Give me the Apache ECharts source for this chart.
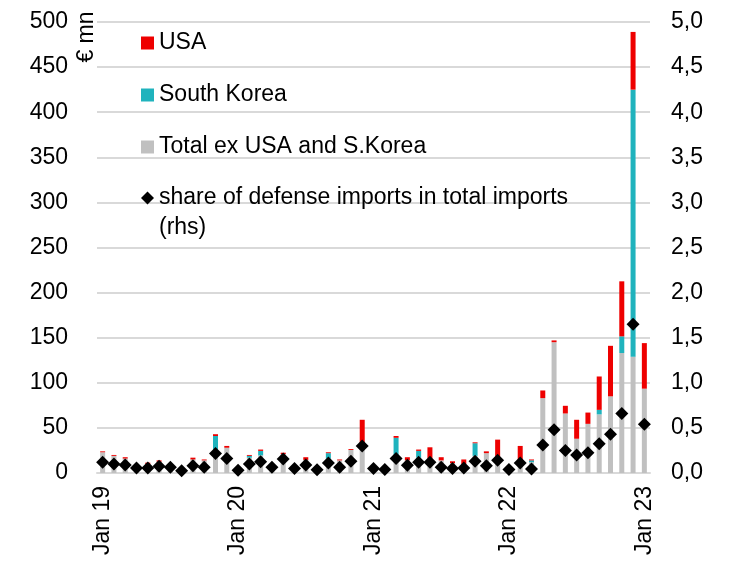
<!DOCTYPE html>
<html>
<head>
<meta charset="utf-8">
<script src="https://cdn.jsdelivr.net/npm/echarts@6/dist/echarts.min.js"></script>
<style>
  html, body { margin: 0; padding: 0; background: #fff; }
  #chart { width: 731px; height: 561px; }
</style>
</head>
<body>
<div id="chart"></div>
<script>
// Monthly defense imports, Jan 2019 - Jan 2023 (€ mn) and share in total imports (%)
const monthNames = ['Jan','Feb','Mar','Apr','May','Jun','Jul','Aug','Sep','Oct','Nov','Dec'];
const years = ['19','20','21','22','23'];
const months = [];
years.forEach(y => monthNames.forEach(m => months.push(m + ' ' + y)));
const categories = months.slice(0, 49);

const totalExUsaKorea = [
  23, 19, 16, 8, 10, 12.5, 8, 4, 15, 14, 26, 28,
  4, 17, 19.5, 8, 21, 6, 14.5, 3, 16, 14, 25.5, 27,
  5, 3, 19, 14, 17, 16, 14, 11, 10, 19, 22, 18,
  5, 10, 12, 83, 145, 66, 38, 54.5, 65, 85, 133, 129,
  93.5
];
const southKorea = [
  0, 0, 0, 0, 0, 0, 0, 0, 0, 0, 15, 0,
  0, 2, 5, 0, 0, 0, 0, 0, 6, 0, 0, 0,
  0, 0, 20, 0, 7.5, 0, 0, 0, 0, 14, 0, 0,
  0, 0, 2, 0, 0, 0, 0, 0, 5, 0, 18.5, 296,
  0
];
const usa = [
  1, 1, 1.5, 0, 1.5, 1.5, 0.5, 0, 2, 1, 2, 2,
  0.5, 1, 1.5, 0, 1.5, 0, 3, 0, 1, 1, 1, 32,
  0, 0, 2, 3.5, 1.5, 12.5, 3.5, 2, 5, 1, 2, 19,
  0, 20, 1, 8.5, 2, 8.5, 21, 12.5, 37, 56, 61, 64,
  50.5
];
const shareOfImports = [
  0.12, 0.10, 0.09, 0.055, 0.055, 0.075, 0.065, 0.025, 0.08, 0.065, 0.215, 0.16,
  0.03, 0.10, 0.125, 0.065, 0.155, 0.05, 0.09, 0.035, 0.11, 0.065, 0.13, 0.30,
  0.05, 0.04, 0.16, 0.085, 0.12, 0.12, 0.065, 0.05, 0.055, 0.13, 0.08, 0.14,
  0.04, 0.11, 0.045, 0.31, 0.48, 0.25, 0.20, 0.225, 0.325, 0.43, 0.66, 1.65,
  0.54
];

const FONT = "'Liberation Sans', Arial, sans-serif";
const FS = 23;
const RED = '#ee0000', TEAL = '#1fb3bd', GREY = '#c0c0c0', GRID = '#d9d9d9';

const names = {
  usa: 'USA',
  korea: 'South Korea',
  rest: 'Total ex USA and S.Korea',
  share: 'share of defense imports in total imports'
};

function legendAt(name, top, icon) {
  return {
    data: [{ name: name, icon: icon }],
    left: 141, top: top, orient: 'vertical',
    itemWidth: 13, itemHeight: 13, itemGap: 0, padding: 0,
    selectedMode: false,
    textStyle: { fontFamily: FONT, fontSize: FS, color: '#000', lineHeight: 26 }
  };
}

const chart = echarts.init(document.getElementById('chart'), null, { renderer: 'canvas' });
chart.setOption({
  animation: false,
  backgroundColor: '#fff',
  grid: { left: 97, right: 81, top: 22, bottom: 88, containLabel: false },
  legend: [
    legendAt(names.usa, 30, 'rect'),
    legendAt(names.korea, 82, 'rect'),
    legendAt(names.rest, 134, 'rect'),
    legendAt(names.share, 185, 'diamond')
  ],
  graphic: [
    { type: 'text', left: 159, top: 216,
      style: { text: '(rhs)', font: FS + 'px ' + FONT, fill: '#000' } },
    { type: 'text', x: 87, y: 37, rotation: Math.PI / 2,
      style: { text: '€ mn', font: FS + 'px ' + FONT, fill: '#000',
               align: 'center', verticalAlign: 'middle' } }
  ],
  xAxis: {
    type: 'category',
    data: categories,
    boundaryGap: true,
    axisTick: { show: false },
    axisLine: { lineStyle: { color: GRID, width: 2 } },
    axisLabel: { interval: 11, rotate: 90, margin: 13, fontFamily: FONT, fontSize: FS, color: '#000' }
  },
  yAxis: [
    {
      type: 'value', min: 0, max: 500, interval: 50,
      axisLine: { show: false }, axisTick: { show: false },
      splitLine: { lineStyle: { color: GRID, width: 2 } },
      axisLabel: { margin: 29, fontFamily: FONT, fontSize: FS, color: '#000' }
    },
    {
      type: 'value', min: 0, max: 5, interval: 0.5, position: 'right',
      axisLine: { show: false }, axisTick: { show: false },
      splitLine: { show: false },
      axisLabel: {
        margin: 21, fontFamily: FONT, fontSize: FS, color: '#000',
        formatter: v => v.toFixed(1).replace('.', ',')
      }
    }
  ],
  series: [
    { name: names.rest, type: 'bar', stack: 'imports', data: totalExUsaKorea,
      barWidth: 5, itemStyle: { color: GREY } },
    { name: names.korea, type: 'bar', stack: 'imports', data: southKorea,
      barWidth: 5, itemStyle: { color: TEAL } },
    { name: names.usa, type: 'bar', stack: 'imports', data: usa,
      barWidth: 5, itemStyle: { color: RED } },
    { name: names.share, type: 'line', yAxisIndex: 1, data: shareOfImports,
      symbol: 'diamond', symbolSize: 13, showAllSymbol: true, z: 5,
      lineStyle: { width: 0, opacity: 0 },
      itemStyle: { color: '#000' } }
  ]
});
</script>
</body>
</html>
